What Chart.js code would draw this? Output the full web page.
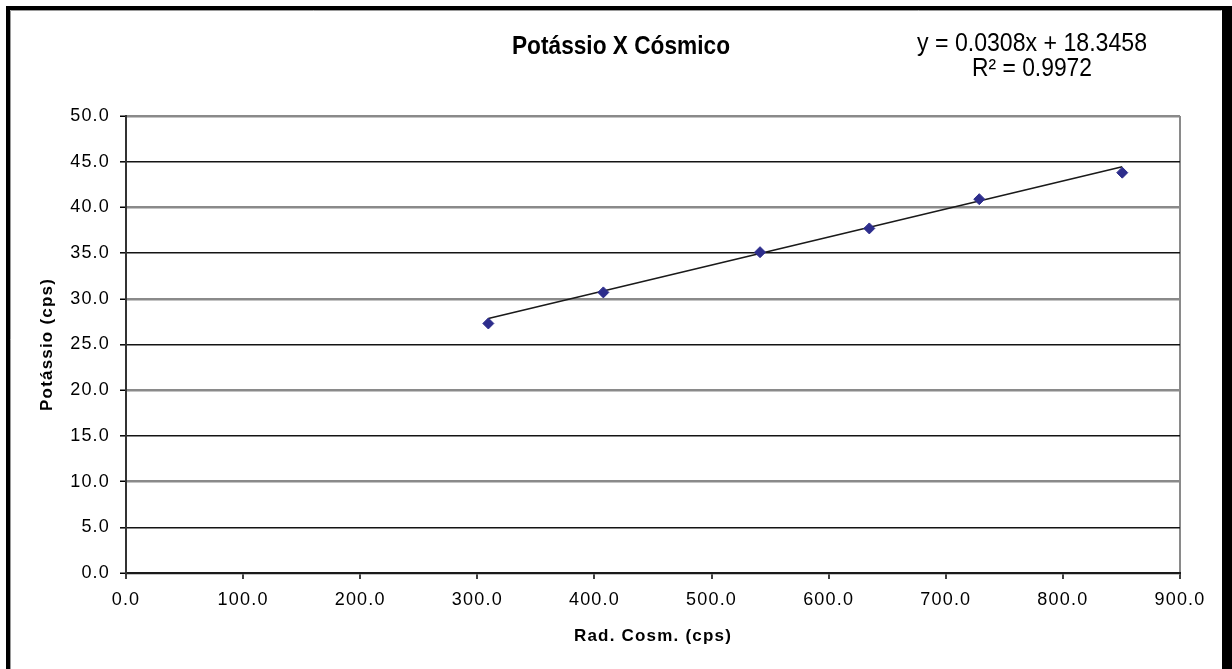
<!DOCTYPE html>
<html>
<head>
<meta charset="utf-8">
<script src="https://cdn.jsdelivr.net/npm/chart.js@4"></script>
<style>
  body { margin: 0; background: #fff; }
  #wrap { position: relative; width: 1232px; height: 669px; }
</style>
</head>
<body>
<div id="wrap"><canvas id="potChart"></canvas></div>
<script>
const radCosm = [309.4, 407.6, 541.4, 634.7, 728.6, 850.7];
const potassio = [27.3, 30.7, 35.1, 37.7, 40.9, 43.8];
// trend line end points (first and last x)
const trendX = [309.4, 850.7];
const trendY = [27.85, 44.45];
const chartTitle = 'Potássio X Cósmico';
const eqLines = ['y = 0.0308x + 18.3458', 'R² = 0.9972'];

const FONT = '"Liberation Sans", Arial, sans-serif';

// draws a string squeezed to a given width (Excel's text is narrow)
function fitText(ctx, text, cx, baseline, width) {
    const w = ctx.measureText(text).width;
    ctx.save();
    ctx.translate(cx, baseline);
    ctx.scale(width / w, 1);
    ctx.textAlign = 'center';
    ctx.textBaseline = 'alphabetic';
    ctx.fillText(text, 0, 0);
    ctx.restore();
}

const decorations = {
    id: 'decorations',
    beforeDraw(chart) {
        chart.ctx.letterSpacing = '1.2px';
    },
    afterDraw(chart) {
        const ctx = chart.ctx;
        ctx.letterSpacing = '0px';
        ctx.save();
        ctx.fillStyle = '#000';
        ctx.font = 'bold 25px ' + FONT;
        fitText(ctx, chartTitle, 621, 54, 218);
        ctx.font = '25px ' + FONT;
        fitText(ctx, eqLines[0], 1032, 51, 230);
        fitText(ctx, eqLines[1], 1032, 76, 120);

        // outer frame
        ctx.fillStyle = '#000';
        ctx.fillRect(6, 6, 4, 669);
        ctx.fillRect(6, 6, 1226, 4);
        ctx.fillRect(1222, 6, 10, 669);
        ctx.strokeStyle = '#9a9a9a';
        ctx.lineWidth = 1;
        ctx.beginPath();
        ctx.moveTo(10.5, 669);
        ctx.lineTo(10.5, 10.5);
        ctx.lineTo(1221.5, 10.5);
        ctx.stroke();
        ctx.restore();
    }
};

const ctx = document.getElementById('potChart').getContext('2d');
new Chart(ctx, {
    type: 'scatter',
    data: {
        datasets: [{
            label: 'Potássio',
            data: radCosm.map((x, i) => ({ x: x, y: potassio[i] })),
            pointStyle: 'rectRot',
            pointRadius: 5.5,
            pointHoverRadius: 5.5,
            backgroundColor: '#2d2d8c',
            borderColor: '#2d2d8c',
            borderWidth: 1
        }, {
            label: 'Linear',
            data: trendX.map((x, i) => ({ x: x, y: trendY[i] })),
            showLine: true,
            pointRadius: 0,
            borderColor: '#1a1a1a',
            borderWidth: 1.6
        }]
    },
    options: {
        responsive: true,
        maintainAspectRatio: false,
        animation: false,
        layout: {
            padding: { top: 116, right: 52, left: 0, bottom: 0 }
        },
        scales: {
            x: {
                type: 'linear',
                min: 0,
                max: 900,
                afterFit(scale) { scale.height = 96; },
                ticks: {
                    stepSize: 100,
                    padding: 10,
                    color: '#000',
                    font: { family: FONT, size: 18 },
                    callback: v => v.toFixed(1)
                },
                grid: {
                    color: c => c.tick && c.tick.value === 900 ? '#8a8a8a' : 'rgba(0,0,0,0)',
                    lineWidth: 2,
                    tickColor: '#000',
                    tickWidth: 1.5,
                    tickLength: 6
                },
                border: { color: '#1a1a1a', width: 2 },
                title: {
                    display: true,
                    text: 'Rad. Cosm. (cps)',
                    color: '#000',
                    font: { family: FONT, size: 17, weight: 'bold' },
                    padding: { top: 0, bottom: 22 }
                }
            },
            y: {
                min: 0,
                max: 50,
                afterFit(scale) { scale.width = 126; },
                ticks: {
                    stepSize: 5,
                    padding: 10,
                    color: '#000',
                    font: { family: FONT, size: 18 },
                    callback: v => v.toFixed(1)
                },
                grid: {
                    color: c => c.tick && c.tick.value % 10 === 0 ? '#8a8a8a' : '#141414',
                    lineWidth: c => c.tick && c.tick.value % 10 === 0 ? 2.5 : 1.6,
                    tickColor: '#000',
                    tickWidth: 1.5,
                    tickLength: 6
                },
                border: { color: '#333', width: 2 },
                title: {
                    display: true,
                    text: 'Potássio (cps)',
                    color: '#000',
                    font: { family: FONT, size: 17, weight: 'bold' },
                    padding: { top: 37, bottom: 0 }
                }
            }
        },
        plugins: {
            legend: { display: false },
            tooltip: { enabled: false }
        }
    },
    plugins: [decorations]
});
</script>
</body>
</html>
